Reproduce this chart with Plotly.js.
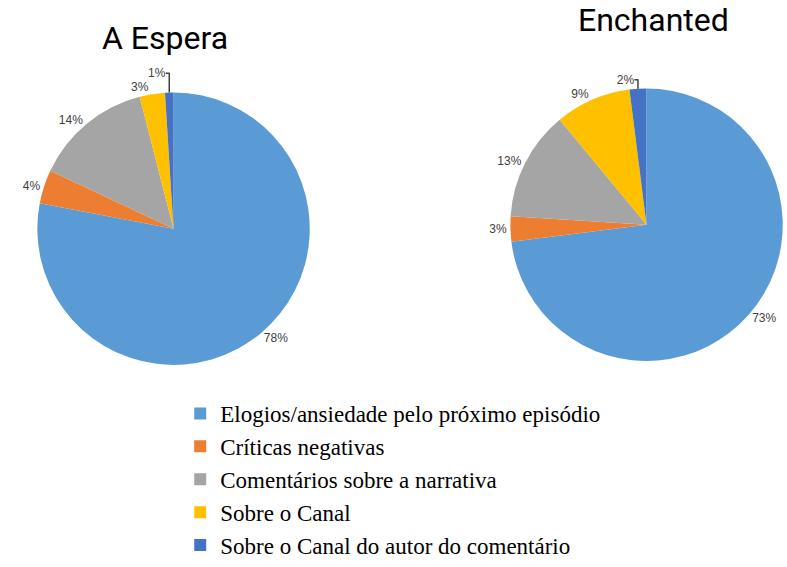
<!DOCTYPE html>
<html>
<head>
<meta charset="utf-8">
<script src="https://cdn.plot.ly/plotly-3.0.1.min.js"></script>
<style>html,body{margin:0;padding:0;background:#fff}#chart{width:787px;height:567px}</style>
</head>
<body>
<div id="chart"></div>
<script>
const categories = [
  "Elogios/ansiedade pelo próximo episódio",
  "Críticas negativas",
  "Comentários sobre a narrativa",
  "Sobre o Canal",
  "Sobre o Canal do autor do comentário"
];
const esperaValues = [78, 4, 14, 3, 1];
const enchantedValues = [73, 3, 13, 9, 2];
const chartTitles = ["A Espera", "Enchanted"];
const colors = ["#5B9BD5", "#ED7D31", "#A5A5A5", "#FFC000", "#4472C4"];

const common = {
  type: "pie",
  labels: categories,
  sort: false,
  direction: "clockwise",
  rotation: 0,
  marker: {colors: colors, line: {width: 0}},
  textposition: "outside",
  texttemplate: "%{value}%",
  textfont: {family: "Liberation Sans, Arial, sans-serif", size: 12, color: "#404040"},
  hoverinfo: "label+percent"
};

const data = [
  Object.assign({}, common, {
    values: esperaValues,
    domain: {x: [0.047, 0.394], y: [0.353, 0.836]}
  }),
  Object.assign({}, common, {
    values: enchantedValues,
    domain: {x: [0.648, 0.995], y: [0.360, 0.843]}
  })
];

const layout = {
  width: 787, height: 567,
  margin: {l: 0, r: 0, t: 0, b: 0},
  paper_bgcolor: "#fff",
  showlegend: true,
  legend: {
    x: 0.229, y: 0.305, xanchor: "left", yanchor: "top",
    font: {family: "Liberation Serif, Times New Roman, serif", size: 23, color: "#000"},
    bgcolor: "rgba(0,0,0,0)"
  },
  annotations: [
    {text: chartTitles[0], x: 165/787, y: 1 - 38/567, xref: "paper", yref: "paper",
     xanchor: "center", yanchor: "middle",
     showarrow: false, font: {family: "Roboto, sans-serif", size: 32, color: "#000"}},
    {text: chartTitles[1], x: 653/787, y: 1 - 20/567, xref: "paper", yref: "paper",
     xanchor: "center", yanchor: "middle",
     showarrow: false, font: {family: "Roboto, sans-serif", size: 32, color: "#000"}}
  ]
};

Plotly.newPlot("chart", data, layout, {displayModeBar: false, staticPlot: true});
</script>
</body>
</html>
